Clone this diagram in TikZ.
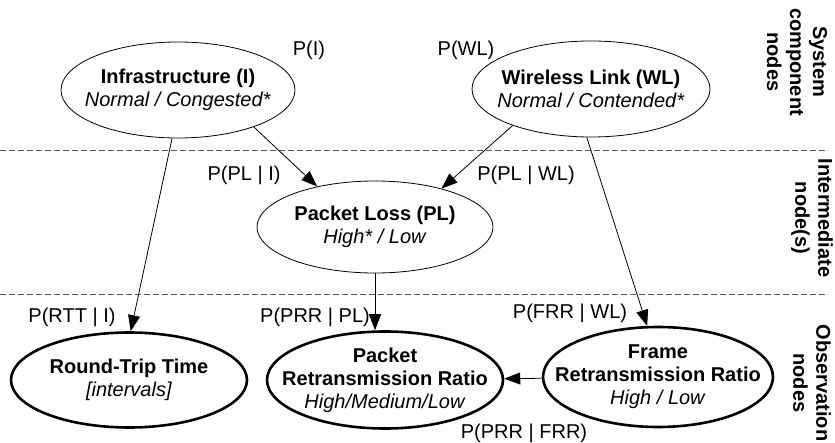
\documentclass[tikz,border=0pt]{standalone}
\usepackage{fontspec}
\setmainfont{Liberation Sans}
\usetikzlibrary{shapes.geometric,arrows.meta}
\tikzset{
  thinell/.style={draw, ellipse, line width=0.8pt, inner sep=-30pt, align=center},
  thickell/.style={draw, ellipse, line width=2.6pt, inner sep=-30pt, align=center},
  lbl/.style={inner sep=0pt, font=\fontsize{20}{23}\selectfont},
  sidelbl/.style={inner sep=0pt, rotate=-90, align=center, font=\fontsize{20}{23}\selectfont\bfseries},
  conn/.style={line width=0.8pt, -{Triangle[length=16pt,width=12pt]}},
  sep/.style={line width=0.8pt, black!65, dash pattern=on 6pt off 3pt}
}
\begin{document}
\begin{tikzpicture}[x=1pt,y=-1pt, font=\fontsize{20}{23}\selectfont]
\useasboundingbox (0,0) rectangle (835,443);
% separators
\coordinate (s1a) at (0,150); \coordinate (s1b) at (828,150);
\coordinate (s2a) at (0,294); \coordinate (s2b) at (828,294);
\draw[sep] (s1a) -- (s1b);
\draw[sep] (s2a) -- (s2b);
% nodes
\node[thinell, minimum width=234pt, minimum height=96pt] (I) at (178,90)
  {\textbf{Infrastructure (I)}\\\textit{Normal / Congested*}};
\node[thinell, minimum width=238pt, minimum height=96pt] (WL) at (591,89)
  {\textbf{Wireless Link (WL)}\\\textit{Normal / Contended*}};
\node[thinell, minimum width=236pt, minimum height=92pt] (PL) at (375,227)
  {\textbf{Packet Loss (PL)}\\\textit{High* / Low}};
\node[thickell, minimum width=236pt, minimum height=95pt] (RTT) at (129,380)
  {\textbf{Round-Trip Time}\\\textit{[intervals]}};
\node[thickell, minimum width=236pt, minimum height=97pt] (PRR) at (385,380)
  {\textbf{Packet}\\\textbf{Retransmission Ratio}\\\textit{High/Medium/Low}};
\node[thickell, minimum width=230pt, minimum height=100pt] (FRR) at (658,377)
  {\textbf{Frame}\\\textbf{Retransmission Ratio}\\\textit{High / Low}};
% probability labels
\node[lbl] (pI) at (309,50) {P(I)};
\node[lbl] (pWL) at (466,50) {P(WL)};
\node[lbl] (pPLI) at (244,175) {P(PL | I)};
\node[lbl] (pPLWL) at (526,175) {P(PL | WL)};
\node[lbl] (pRTT) at (72,317) {P(RTT | I)};
\node[lbl] (pPRRPL) at (315,317) {P(PRR | PL)};
\node[lbl] (pFRR) at (570,313) {P(FRR | WL)};
\node[lbl] (pPRRFRR) at (524,433) {P(PRR | FRR)};
% side labels
\node[sidelbl] (side1) at (797,62) {System\\component\\nodes};
\node[sidelbl] (side2) at (812,218) {Intermediate\\node(s)};
\node[sidelbl] (side3) at (812,383) {Observation\\nodes};
% connectors
\draw[conn] (I.-26) -- (PL.145);
\draw[conn] (WL.205) -- (PL.30);
\draw[conn] (I.263) -- (RTT.88);
\draw[conn] (WL.265) -- (FRR.102);
\draw[conn] (PL) -- (PL |- PRR.north);
\draw[conn] (FRR) -- (PRR);
\end{tikzpicture}
\end{document}
